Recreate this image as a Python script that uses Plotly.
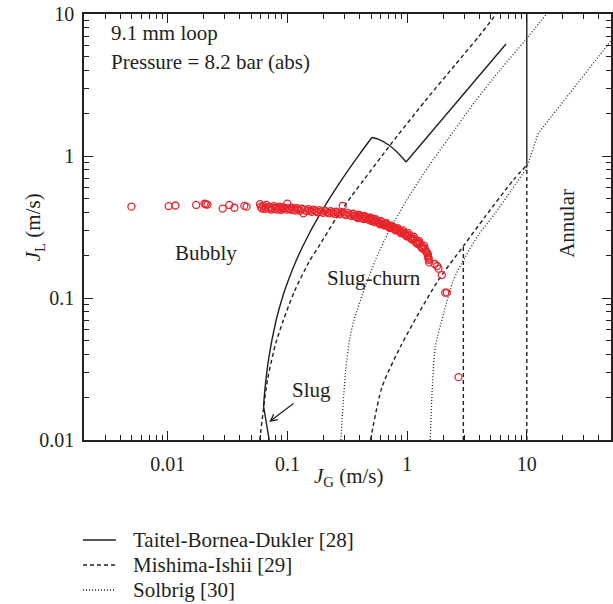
import math
import plotly.graph_objects as go

# ---------------------------------------------------------------
# Measured superficial velocities, 9.1 mm loop at 8.2 bar (abs)
# ---------------------------------------------------------------
jg_meas = [
    0.00498, 0.0102, 0.0116, 0.0173, 0.0203, 0.0208, 0.0215, 0.0288, 0.0327,
    0.0361, 0.0437, 0.0456,
    0.0590, 0.0600, 0.0610, 0.0630, 0.0640, 0.0660, 0.0670, 0.0690, 0.0710,
    0.0730, 0.0750, 0.0770, 0.0790, 0.0810, 0.0830, 0.0850, 0.0870, 0.0890,
    0.0910, 0.0930, 0.0960, 0.0980, 0.1000, 0.1020, 0.1050, 0.1080, 0.1110,
    0.1140, 0.1170, 0.1200, 0.1240, 0.1280, 0.1320, 0.1360, 0.1400, 0.1450,
    0.1500, 0.1550, 0.1600, 0.1660, 0.1720, 0.1780, 0.1850, 0.1920, 0.1990,
    0.2060, 0.2140, 0.2220, 0.2300, 0.2380, 0.2470, 0.2560, 0.2650, 0.2750,
    0.2850, 0.2900, 0.2960, 0.3070, 0.3180, 0.3300, 0.3420, 0.3550, 0.3680,
    0.3810, 0.3950, 0.4100, 0.4250, 0.4400, 0.4560, 0.4720, 0.4900, 0.5080,
    0.5260, 0.5450, 0.5650, 0.5850, 0.6060, 0.6280, 0.6500, 0.6730, 0.6970,
    0.7220, 0.7480, 0.7750, 0.8030, 0.8320, 0.8620, 0.8930, 0.9250, 0.9580,
    0.9920, 1.0270, 1.0630, 1.1000, 1.1380, 1.1770, 1.2170, 1.2580, 1.3000,
    1.3430, 1.3870, 1.4320, 1.4780, 1.5000, 1.5140, 1.5300,
    0.362, 0.388, 0.402, 0.432, 0.448, 0.480, 0.499, 0.517, 0.536, 0.555,
    0.575, 0.596, 0.617, 0.639, 0.661, 0.685, 0.709, 0.735, 0.761, 0.789,
    0.817, 0.847, 0.877, 0.909, 0.941, 0.975, 1.010, 1.045, 1.081, 1.119,
    1.157, 1.197, 1.237, 1.279, 1.321, 1.365, 1.409, 1.455, 1.490, 1.508,
    1.70, 1.78, 1.83, 1.95, 2.08, 2.15, 2.69,
]
jl_meas = [
    0.440, 0.444, 0.448, 0.452, 0.462, 0.457, 0.455, 0.426, 0.452,
    0.432, 0.445, 0.440,
    0.458, 0.440, 0.428, 0.445, 0.424, 0.434, 0.452, 0.426, 0.438,
    0.420, 0.431, 0.444, 0.423, 0.434, 0.419, 0.440, 0.427, 0.417,
    0.436, 0.425, 0.431, 0.419, 0.462, 0.428, 0.420, 0.433, 0.417,
    0.426, 0.413, 0.430, 0.421, 0.411, 0.425, 0.395, 0.419, 0.409,
    0.423, 0.413, 0.405, 0.419, 0.410, 0.402, 0.416, 0.406, 0.398,
    0.412, 0.403, 0.395, 0.409, 0.400, 0.392, 0.405, 0.396, 0.388,
    0.402, 0.446, 0.391, 0.384, 0.398, 0.387, 0.379, 0.392, 0.381,
    0.372, 0.386, 0.373, 0.364, 0.378, 0.365, 0.356, 0.369, 0.356,
    0.346, 0.359, 0.345, 0.335, 0.348, 0.333, 0.323, 0.336, 0.320,
    0.311, 0.323, 0.308, 0.299, 0.311, 0.295, 0.286, 0.299, 0.281,
    0.272, 0.286, 0.266, 0.258, 0.270, 0.248, 0.241, 0.252, 0.231,
    0.223, 0.234, 0.214, 0.206, 0.196, 0.186, 0.178,
    0.378, 0.366, 0.380, 0.360, 0.371, 0.362, 0.350, 0.362, 0.342, 0.352,
    0.340, 0.330, 0.342, 0.327, 0.330, 0.328, 0.315, 0.317, 0.315, 0.303,
    0.305, 0.303, 0.290, 0.292, 0.289, 0.277, 0.279, 0.275, 0.262, 0.263,
    0.259, 0.245, 0.246, 0.242, 0.227, 0.228, 0.222, 0.210, 0.201, 0.191,
    0.1735, 0.168, 0.161, 0.145, 0.109, 0.109, 0.0277,
]

# ---------------------------------------------------------------
# Flow-regime transition boundaries (J_G, J_L in m/s)
# ---------------------------------------------------------------
# Taitel-Bornea-Dukler [28]
tbd_bubbly_jg = [0.0632, 0.065, 0.07, 0.08, 0.09, 0.10, 0.12, 0.15, 0.20, 0.25, 0.30, 0.40, 0.508]
tbd_bubbly_jl = [0.0173, 0.023, 0.038, 0.068, 0.098, 0.128, 0.188, 0.278, 0.428, 0.578, 0.728, 1.028, 1.35]
tbd_dispersed_jg = [0.508, 0.58, 0.703, 0.82, 0.98]
tbd_dispersed_jl = [1.35, 1.31, 1.195, 1.07, 0.908]
tbd_upper_jg = [0.98, 6.7]
tbd_upper_jl = [0.908, 6.15]
tbd_annular_jg = [10.0, 10.0]
tbd_annular_jl = [0.87, 10.0]
tbd_slug_jg = [0.0632, 0.0705]
tbd_slug_jl = [0.0173, 0.0100]

# Mishima-Ishii [29]
mi_bubbly_jg = [0.0588, 0.0682, 0.080, 0.0927, 0.1138, 0.1518, 0.1837, 0.2532, 0.348, 0.4355, 0.703, 1.42, 2.5, 4.0, 5.55]
mi_bubbly_jl = [0.010, 0.0265, 0.048, 0.070, 0.110, 0.180, 0.232, 0.360, 0.530, 0.680, 1.160, 2.450, 4.35, 7.0, 10.0]
mi_churn_jg = [0.495, 0.618, 0.88, 1.25, 1.83, 2.95, 4.49, 7.72, 10.0]
mi_churn_jl = [0.010, 0.0237, 0.0454, 0.078, 0.134, 0.232, 0.374, 0.678, 0.865]
mi_churn_vert_jg = [2.95, 2.95]
mi_churn_vert_jl = [0.010, 0.232]
mi_annular_jg = [10.0, 10.0]
mi_annular_jl = [0.010, 0.865]

# Solbrig [30]
sol_bubbly_jg = [0.280, 0.292, 0.307, 0.33, 0.36, 0.45, 0.545, 0.70, 0.80, 1.0, 1.51, 2.2, 3.7, 6.0, 9.66, 14.6]
sol_bubbly_jl = [0.010, 0.018, 0.031, 0.050, 0.070, 0.122, 0.186, 0.292, 0.356, 0.495, 0.845, 1.32, 2.42, 4.05, 6.5, 10.0]
sol_annular_jg = [1.56, 1.63, 1.72, 2.02, 2.44, 3.06, 3.95, 5.44, 7.5, 9.95]
sol_annular_jl = [0.010, 0.025, 0.045, 0.078, 0.134, 0.195, 0.278, 0.395, 0.58, 0.82]
sol_mist_jg = [9.95, 12.46, 20.0, 30.0, 46.1, 50.5]
sol_mist_jl = [0.82, 1.445, 2.40, 3.71, 5.89, 6.49]

# Axis ticks
major_ticks = [0.01, 0.1, 1, 10]
major_labels = ["0.01", "0.1", "1", "10"]
minor_x = [m * 10 ** e for e in range(-3, 2) for m in range(2, 10)]
minor_y = [m * 10 ** e for e in range(-2, 1) for m in range(2, 10)]

# ---------------------------------------------------------------
INK = "#231f20"
DOTINK = "#262626"
RED = "#e8242b"
FONT = "Liberation Serif, Times New Roman, DejaVu Serif, serif"
SOLID, DASHED, DOTTED = "solid", "4px,3px", "1px,2px"

W, H = 613, 604
ML, MR, MT, MB = 84, 0, 14, 164


def pxx(x):
    return (x - ML) / (W - ML - MR)


def pxy(y):
    return (H - MB - y) / (H - MT - MB)


def line_style(dash):
    if dash == DOTTED:
        return dict(color=DOTINK, width=1.3, dash=dash)
    return dict(color=INK, width=1.4, dash=dash)


fig = go.Figure()


def boundary(xs, ys, dash, smooth=False):
    st = line_style(dash)
    st.update(shape="spline" if smooth else "linear", smoothing=0.7)
    fig.add_trace(go.Scatter(x=xs, y=ys, mode="lines", line=st,
                             hoverinfo="skip", showlegend=False))


boundary(tbd_bubbly_jg, tbd_bubbly_jl, SOLID, True)
boundary(tbd_dispersed_jg, tbd_dispersed_jl, SOLID, True)
boundary(tbd_upper_jg, tbd_upper_jl, SOLID)
boundary(tbd_slug_jg, tbd_slug_jl, SOLID)
boundary(mi_bubbly_jg, mi_bubbly_jl, DASHED, True)
boundary(mi_churn_jg, mi_churn_jl, DASHED, True)
boundary(mi_churn_vert_jg, mi_churn_vert_jl, DASHED)
boundary(mi_annular_jg, mi_annular_jl, DASHED)
boundary(sol_bubbly_jg, sol_bubbly_jl, DOTTED, True)
boundary(sol_annular_jg, sol_annular_jl, DOTTED, True)
boundary(sol_mist_jg, sol_mist_jl, DOTTED)
boundary(tbd_annular_jg, tbd_annular_jl, SOLID)

fig.add_trace(go.Scatter(
    x=jg_meas, y=jl_meas, mode="markers",
    marker=dict(symbol="circle-open", size=7, color=RED, line=dict(width=1.3, color=RED)),
    hoverinfo="skip", showlegend=False))

axis_common = dict(
    type="log", tickvals=major_ticks, ticktext=major_labels,
    ticks="inside", ticklen=9, tickwidth=1.3, tickcolor=INK,
    showline=True, linecolor=INK, linewidth=1.5, mirror="allticks",
    showgrid=False, zeroline=False,
    tickfont=dict(family=FONT, size=20, color=INK),
)

fig.update_layout(
    width=W, height=H,
    margin=dict(l=ML, r=MR, t=MT, b=MB),
    paper_bgcolor="white", plot_bgcolor="white",
    showlegend=False,
    xaxis=dict(axis_common, range=[math.log10(0.002), math.log10(50.5)],
               ticklabelstandoff=5,
               minor=dict(tickvals=minor_x, ticks="inside", ticklen=5,
                          tickwidth=1.2, tickcolor=INK, showgrid=False)),
    yaxis=dict(axis_common, range=[math.log10(0.01), math.log10(10)],
               ticklabelstandoff=4,
               minor=dict(tickvals=minor_y, ticks="inside", ticklen=5,
                          tickwidth=1.2, tickcolor=INK, showgrid=False)),
)

txt = dict(family=FONT, size=21, color=INK)
L10 = math.log10
annotations = [
    dict(x=pxx(109), y=pxy(33), xref="paper", yref="paper", text="9.1 mm loop",
         showarrow=False, xanchor="left", yanchor="middle", font=txt),
    dict(x=pxx(109), y=pxy(62), xref="paper", yref="paper", text="Pressure = 8.2 bar (abs)",
         showarrow=False, xanchor="left", yanchor="middle", font=txt),
    dict(x=L10(0.0207), y=L10(0.2065), xref="x", yref="y", text="Bubbly",
         showarrow=False, font=txt),
    dict(x=L10(0.527), y=L10(0.1377), xref="x", yref="y", text="Slug-churn",
         showarrow=False, font=txt),
    dict(x=L10(21.9), y=L10(0.336), xref="x", yref="y", text="Annular",
         showarrow=False, textangle=-90, font=txt),
    dict(x=L10(0.0705), y=L10(0.0134), xref="x", yref="y", text="Slug",
         showarrow=True, ax=42, ay=-32, arrowhead=5, arrowsize=1.1,
         arrowwidth=1.2, arrowcolor=INK, font=txt),
    dict(x=pxx(350), y=pxy(492), xref="paper", yref="paper",
         text="<i>J</i><sub>G</sub> (m/s)", showarrow=False, font=txt),
    dict(x=pxx(19), y=pxy(227), xref="paper", yref="paper",
         text="<i>J</i><sub>L</sub> (m/s)", showarrow=False, textangle=-90, font=txt),
]

legend_rows = [
    ("Taitel-Bornea-Dukler [28]", SOLID, 540),
    ("Mishima-Ishii [29]", DASHED, 565),
    ("Solbrig [30]", DOTTED, 590),
]
shapes = []
for label, dash, ypix in legend_rows:
    shapes.append(dict(type="line", xref="paper", yref="paper",
                       x0=pxx(83), x1=pxx(116), y0=pxy(ypix), y1=pxy(ypix),
                       line=line_style(dash)))
    annotations.append(dict(x=pxx(131), y=pxy(ypix), xref="paper", yref="paper",
                            text=label, showarrow=False, xanchor="left",
                            yanchor="middle", font=txt))

fig.update_layout(annotations=annotations, shapes=shapes)
fig.write_html("out.html")
